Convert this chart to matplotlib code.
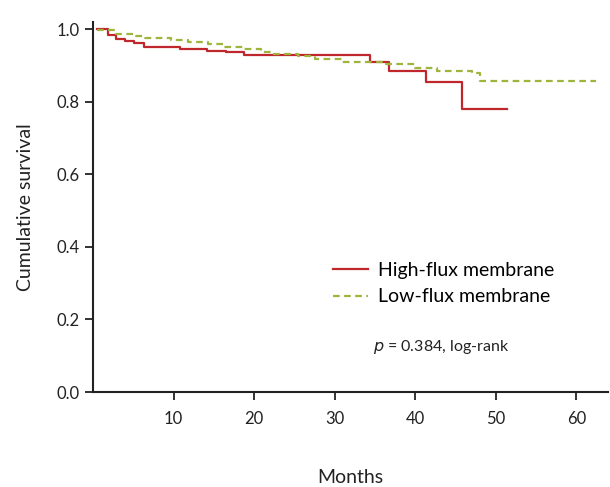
import matplotlib.pyplot as plt

plt.rcParams['font.family'] = ['Lato', 'DejaVu Sans']

# Kaplan-Meier step data (months, cumulative survival)
high_t = [0.5, 1.8, 2.9, 4.0, 5.1, 6.3, 10.8, 14.2, 16.5, 18.8, 34.4, 36.8, 41.3, 45.8, 51.4]
high_s = [1.0, 0.983, 0.973, 0.968, 0.961, 0.950, 0.945, 0.940, 0.936, 0.929, 0.909, 0.886, 0.855, 0.781, 0.781]

low_t = [0.5, 2.9, 5.35, 6.4, 9.7, 11.8, 14.3, 16.3, 18.8, 20.9, 22.2, 25.5, 27.6, 30.9, 36.0, 40.0, 42.7, 47.1, 48.1, 62.4]
low_s = [0.997, 0.986, 0.980, 0.977, 0.971, 0.965, 0.958, 0.951, 0.944, 0.936, 0.932, 0.925, 0.918, 0.909, 0.903, 0.892, 0.885, 0.878, 0.856, 0.856]

x_ticks = [10, 20, 30, 40, 50, 60]
y_ticks = [0.0, 0.2, 0.4, 0.6, 0.8, 1.0]

fig = plt.figure(figsize=(6.1, 4.87), dpi=100)
ax = fig.add_axes([0.1525, 0.195, 0.845, 0.76])

ax.step(high_t, high_s, where='post', color='#c0272d', lw=1.6, label='High-flux membrane')
ax.step(low_t, low_s, where='post', color='#9db53a', lw=1.6, ls=(0, (3, 2)), label='Low-flux membrane')

ax.set_xlim(0, 64)
ax.set_ylim(0, 1.02)
ax.set_xticks(x_ticks)
ax.set_yticks(y_ticks)
ax.set_yticklabels([f'{v:.1f}' for v in y_ticks])
ax.tick_params(axis='both', direction='out', length=6, width=1.3, labelsize=12, colors='#222222')
ax.tick_params(axis='x', pad=8)

for s in ['top', 'right']:
    ax.spines[s].set_visible(False)
for s in ['left', 'bottom']:
    ax.spines[s].set_linewidth(1.5)
    ax.spines[s].set_color('#222222')

ax.set_xlabel('Months', fontsize=14, labelpad=30, color='#222222')
ax.set_ylabel('Cumulative survival', fontsize=14, labelpad=16, color='#222222')

ax.legend(loc='upper left', bbox_to_anchor=(0.466, 0.352), frameon=False, fontsize=14,
          handlelength=1.8, handletextpad=0.5, labelspacing=0.5,
          borderpad=0, borderaxespad=0)

ax.text(0.544, 0.122, r'$\it{p}$ = 0.384, log-rank', transform=ax.transAxes,
        fontsize=11.5, va='center', ha='left', color='#222222')

fig.savefig('out.png', dpi=100)
